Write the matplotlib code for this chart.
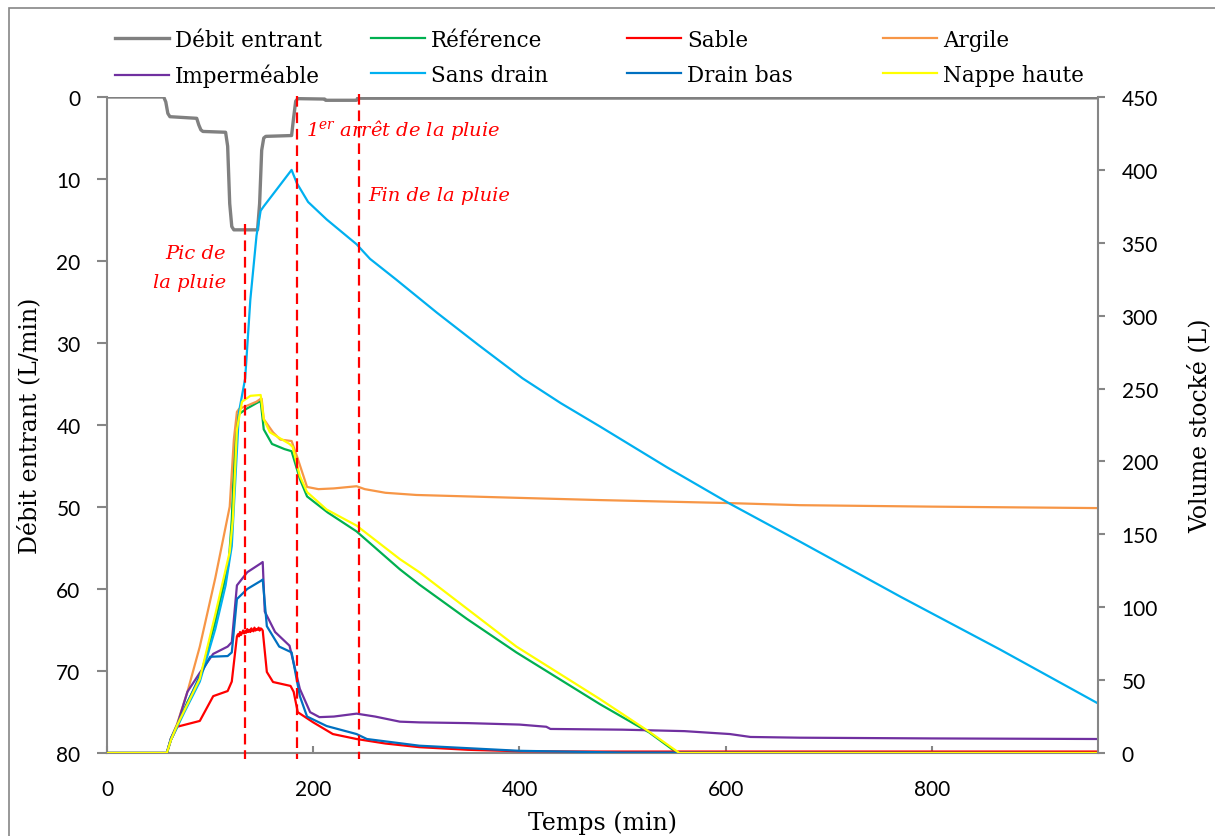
import matplotlib
matplotlib.use("Agg")
import matplotlib.pyplot as plt
from matplotlib.patches import Rectangle

plt.rcParams['font.family'] = 'Lato'
plt.rcParams['mathtext.fontset'] = 'dejavuserif'

SERIF = 'DejaVu Serif'
GRAY = '#868686'

# --- data ---
# inflow, L/min (left axis, inverted)
t_debit = [0, 55, 57, 59, 61, 87, 89, 91, 93, 115, 117, 119, 121, 123, 146, 148,
           150, 152, 154, 179, 181, 183, 185, 211, 212, 242, 243, 961]
d_debit = [0, 0, 0.6, 2.0, 2.4, 2.6, 3.4, 4.0, 4.2, 4.3, 6, 13, 15.8, 16.2, 16.2, 13,
           6.5, 5.0, 4.8, 4.7, 2.5, 0.5, 0.2, 0.25, 0.4, 0.4, 0.15, 0.1]

# stored volume, L (right axis)
t_ref = [0, 58, 62, 68, 78, 90, 105, 118, 121, 124, 127, 135, 145, 149, 152, 160,
         172, 179, 187, 194, 214, 242, 284, 303, 349, 397, 478, 526, 553, 961]
v_ref = [0, 0, 9, 18, 35, 51, 90, 130, 160, 215, 232, 236, 240, 241.5, 222, 212,
         208.5, 207, 188, 176, 165, 152, 126, 115.5, 92, 69, 33.5, 14, 0, 0]

t_sable = [0, 58, 62, 68, 90, 103, 117, 121,
           126, 127, 128, 129, 130, 131, 132, 133, 134, 135, 136, 137, 138, 139, 140,
           141, 142, 143, 144, 145, 146, 147, 148, 149, 150, 151,
           155, 161, 178, 181, 185, 200, 219, 242, 270, 303, 350, 400, 480, 961]
v_sable = [0, 0, 9, 18, 22, 39, 42.5, 49,
           80, 81.5, 80, 83, 81, 82.5, 84, 82, 83.5, 82.5, 85, 83, 84.5, 83, 85.5,
           84, 83.5, 86, 84, 85, 84.5, 86, 84, 85.5, 85, 84,
           55.6, 48.7, 46, 42, 28, 21, 13, 9.6, 6.5, 4, 2.2, 1.2, 1, 1]

t_argile = [0, 58, 62, 68, 78, 90, 105, 119, 123, 126, 128, 135, 145, 149, 150,
            152, 161, 168, 179, 184, 194, 205, 220, 242, 250, 270, 300, 400, 478,
            600, 672, 800, 961]
v_argile = [0, 0, 10, 20, 42, 73, 120, 169, 215, 234, 236, 238, 241, 243, 243,
            229, 220, 215, 214, 204, 182.5, 181, 181.5, 183, 181, 178.5, 177, 175,
            173.5, 171.5, 170, 169, 168]

t_imper = [0, 58, 62, 68, 78, 90, 103, 117, 121, 126, 136, 149, 151, 153, 163,
           177, 187, 197, 206, 220, 242, 260, 284, 303, 350, 400, 426, 430, 500,
           560, 604, 624, 672, 800, 961]
v_imper = [0, 0, 10, 19, 42, 55, 68, 73, 76, 115, 124, 130, 131, 97, 83,
           73.6, 44, 28, 24.6, 25, 27, 25, 21.5, 21, 20.5, 19.5, 18, 16.5, 16,
           15, 13, 11, 10.5, 10, 9.6]

t_sansdrain = [0, 58, 62, 75, 90, 105, 115, 121, 128, 134, 139, 145, 149, 152,
               165, 179, 184, 195, 213, 242, 255, 280, 320, 360, 403, 440, 478, 543,
               604, 672, 770, 866, 961]
v_sansdrain = [0, 0, 9, 28, 49, 85, 115, 142, 234, 257, 311, 355, 372, 375,
               387, 400, 391, 378, 366, 349, 339, 325, 302, 280, 257, 240, 224, 196,
               171, 145, 107, 71, 34]

t_drainbas = [0, 58, 62, 68, 90, 100, 117, 121, 126, 136, 149, 151, 155, 167,
              179, 187, 194, 213, 242, 252, 303, 400, 500, 961]
v_drainbas = [0, 0, 10, 19, 53, 66, 66.5, 69, 105.6, 112.5, 118, 119, 87, 73,
              69, 39, 25, 18.5, 13, 9.6, 5, 1.5, 0.3, 0]

t_nappe = [0, 58, 62, 68, 90, 105, 119, 122, 126, 131, 139, 149, 152, 158, 177,
           180, 187, 194, 213, 242, 284, 303, 397, 478, 526, 555, 961]
v_nappe = [0, 0, 9, 19, 51, 95, 138, 160, 222, 241, 245, 245.6, 229, 220, 212,
           210, 190, 179, 167, 156, 133, 124, 73, 37, 14.5, 0, 0]

labels = ["Débit entrant", "Référence", "Sable", "Argile",
          "Imperméable", "Sans drain", "Drain bas", "Nappe haute"]
colors = ["#808080", "#00B050", "#FF0000", "#F79646",
          "#7030A0", "#00B0F0", "#0070C0", "#FFFF00"]

# rain events: time and top of the dashed marker (left-axis units)
t_events = [134, 184.5, 244]
d_event_top = [15.5, -0.1, -0.4]

# --- figure ---
fig = plt.figure(figsize=(12.15, 8.37), dpi=100)
ax = fig.add_axes([107/1215, 1 - 754/837, 991/1215, 656/837])
ax2 = ax.twinx()

lines = []
l, = ax.plot(t_debit, d_debit, color=colors[0], lw=2.4, solid_joinstyle='round')
lines.append(l)

vol_series = [(t_ref, v_ref), (t_sable, v_sable), (t_argile, v_argile),
              (t_imper, v_imper), (t_sansdrain, v_sansdrain),
              (t_drainbas, v_drainbas), (t_nappe, v_nappe)]
for (t, v), c in zip(vol_series, colors[1:]):
    l, = ax2.plot(t, v, color=c, lw=1.6)
    lines.append(l)

# dashed event markers (converted from left-axis units to right-axis units)
def vol_from_debit(d):
    return 450 * (1 - d / 80)

for t, top in zip(t_events, d_event_top):
    ax2.plot([t, t], [vol_from_debit(top), vol_from_debit(80.7)], color='red',
             lw=1.6, ls=(0, (4.8, 2.6)), clip_on=False, zorder=6)

# axes settings
ax.set_xlim(0, 961)
ax.set_ylim(80, 0)
ax2.set_ylim(0, 450)
ax.set_xticks([0, 200, 400, 600, 800])
ax.set_yticks(range(0, 81, 10))
ax2.set_yticks(range(0, 451, 50))

for a in (ax, ax2):
    for s in a.spines.values():
        s.set_color(GRAY)
        s.set_linewidth(1.5)
    a.spines['top'].set_visible(False)
ax.spines['right'].set_visible(False)
ax2.spines['left'].set_visible(False)
ax2.spines['bottom'].set_visible(False)

ax.tick_params(axis='y', direction='out', length=7, width=1.5, color=GRAY,
               pad=12, labelsize=15)
ax.tick_params(axis='x', direction='in', length=5, width=1.5, color=GRAY,
               pad=19, labelsize=15)
ax2.tick_params(axis='y', direction='out', length=5, width=1.5, color=GRAY,
                pad=12, labelsize=15)

ax.set_xlabel("Temps (min)", family=SERIF, fontsize=17)
ax.xaxis.set_label_coords(0.5, -0.088)
ax.set_ylabel("Débit entrant (L/min)", family=SERIF, fontsize=17)
ax.yaxis.set_label_coords(-0.066, 0.5)
ax2.set_ylabel("Volume stocké (L)", family=SERIF, fontsize=17)
ax2.yaxis.set_label_coords(1.09, 0.5)

# annotations
txt = dict(color='red', fontstyle='italic', family=SERIF, fontsize=14)
ax.text(115.4, 20.8, "Pic de\nla pluie", ha='right', va='center',
        multialignment='right', linespacing=1.75, **txt)
ax.text(193, 3.9, r"1$^{\mathit{er}}$ arrêt de la pluie", ha='left', va='center', **txt)
ax.text(253, 12.0, "Fin de la pluie", ha='left', va='center', **txt)

# legend: 4 evenly spaced columns, 2 rows
for j in range(4):
    fig.legend(handles=[lines[j], lines[j + 4]], labels=[labels[j], labels[j + 4]],
               loc='upper left', bbox_to_anchor=((115 + 256 * j) / 1215, 1 - 30 / 837),
               frameon=False, handlelength=2.5, handletextpad=0.3, borderpad=0,
               borderaxespad=0, labelspacing=0.6,
               prop={'family': SERIF, 'size': 15.5})

# outer frame
fig.add_artist(Rectangle((9 / 1215, -0.05), 1.1, 1.05 - 9 / 837, transform=fig.transFigure,
                         fill=False, edgecolor=GRAY, lw=1.2))

fig.savefig("out.png", dpi=100)
